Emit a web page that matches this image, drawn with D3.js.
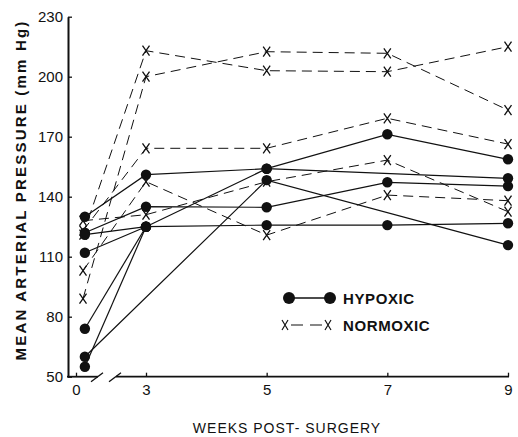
<!DOCTYPE html>
<html>
<head>
<meta charset="utf-8">
<script src="https://cdn.jsdelivr.net/npm/d3@7"></script>
<style>
  body { margin: 0; background: #fff; }
  svg { display: block; font-family: 'Liberation Sans', Arial, sans-serif; }
</style>
</head>
<body>
<svg width="518" height="437"></svg>
<script>
// tick labels
const tickWeeks = [0, 3, 5, 7, 9]
const yTicks = [50, 80, 110, 140, 170, 200, 230]

// first reading was taken a few days after surgery
const hypWeeks = [0.38, 3, 5, 7, 9]
const normWeeks = [0.3, 3, 5, 7, 9]

// one row per animal, null = no reading
const hypoxic = [
  [130, 151, 154, 171.2, 158.7],
  [122, 135, 134.7, 147.2, 145.3],
  [121, 125, 125.8, 125.8, 126.7],
  [112, 125, 154, null, 149.2],
  [74, 125, null, null, null],
  [60, null, 148.3, null, 115.8],
  [55, 125, null, null, null]
]
const normoxic = [
  [121, 213, 203, 202.5, 215],
  [89, 200, 212.5, 211.7, 183.3],
  [123, 164.2, 164.2, 179.2, 166.3],
  [103, 147.5, 120.8, 140.8, 138],
  [128, 131, 147.5, 158.3, 132.5]
]

const svg = d3.select('svg')
const ink = '#111'

// broken x axis: 0..3 squeezed, 3..9 regular
const x = d3.scaleLinear().domain([0, 3, 9]).range([76, 146, 508])
const y = d3.scaleLinear().domain([50, 230]).range([376.7, 16.7])

// y axis
const yAxis = d3.axisLeft(y).tickValues(yTicks).tickSize(-4).tickSizeOuter(0).tickPadding(5)
const gy = svg.append('g').attr('transform', 'translate(68,0)').call(yAxis)
gy.select('.domain').attr('stroke', ink).attr('stroke-width', 2)
gy.selectAll('.tick line').attr('stroke', ink).attr('stroke-width', 1.3)
gy.selectAll('.tick text').attr('fill', ink).attr('font-size', 15).attr('font-family', 'Liberation Sans, Arial, sans-serif')

// x axis (domain drawn by hand because of the break)
const xAxis = d3.axisBottom(x).tickValues(tickWeeks).tickSize(-4).tickSizeOuter(0).tickPadding(8)
const gx = svg.append('g').attr('transform', 'translate(0,376.7)').call(xAxis)
gx.select('.domain').remove()
gx.selectAll('.tick line').attr('stroke', ink).attr('stroke-width', 1.3)
gx.selectAll('.tick text').attr('fill', ink).attr('font-size', 15).attr('font-family', 'Liberation Sans, Arial, sans-serif')

const base = y(50)
const axisSegs = [[67, 98], [116, 509]]
svg.selectAll('line.xseg').data(axisSegs).enter().append('line')
  .attr('class', 'xseg')
  .attr('x1', d => d[0]).attr('x2', d => d[1])
  .attr('y1', base).attr('y2', base)
  .attr('stroke', ink).attr('stroke-width', 1.8)
const slashes = [91, 109]
svg.selectAll('line.slash').data(slashes).enter().append('line')
  .attr('class', 'slash')
  .attr('x1', d => d).attr('y1', base + 5)
  .attr('x2', d => d + 12).attr('y2', base - 4)
  .attr('stroke', ink).attr('stroke-width', 1.3)

// axis titles
svg.append('text')
  .attr('transform', 'translate(26,190) rotate(-90)')
  .attr('text-anchor', 'middle')
  .attr('font-size', 15).attr('font-weight', 'bold')
  .attr('letter-spacing', 2.2)
  .attr('fill', ink)
  .text('MEAN  ARTERIAL  PRESSURE (mm Hg)')

svg.append('text')
  .attr('x', 287).attr('y', 433)
  .attr('text-anchor', 'middle')
  .attr('font-size', 14)
  .attr('letter-spacing', 1)
  .attr('fill', ink)
  .text('WEEKS POST- SURGERY')

// series
const toPoints = (row, weeks) => row.map((v, i) => [weeks[i], v]).filter(d => d[1] != null)
const line = d3.line().x(d => x(d[0])).y(d => y(d[1]))

const normG = svg.append('g')
normoxic.forEach(row => {
  const pts = toPoints(row, normWeeks)
  normG.append('path')
    .attr('d', line(pts))
    .attr('fill', 'none')
    .attr('stroke', ink)
    .attr('stroke-width', 1)
    .attr('stroke-dasharray', '10,6')
  normG.selectAll(null).data(pts).enter().append('path')
    .attr('transform', d => `translate(${x(d[0])},${y(d[1])})`)
    .attr('d', 'M-3.5,-5L3.5,5M3.5,-5L-3.5,5')
    .attr('stroke', ink)
    .attr('stroke-width', 1.3)
})

const hypG = svg.append('g')
hypoxic.forEach(row => {
  const pts = toPoints(row, hypWeeks)
  hypG.append('path')
    .attr('d', line(pts))
    .attr('fill', 'none')
    .attr('stroke', ink)
    .attr('stroke-width', 1.2)
  hypG.selectAll(null).data(pts).enter().append('circle')
    .attr('cx', d => x(d[0]))
    .attr('cy', d => y(d[1]))
    .attr('r', 5.2)
    .attr('fill', ink)
})

// legend
const leg = svg.append('g')
leg.append('line').attr('x1', 289).attr('x2', 330).attr('y1', 298).attr('y2', 298)
  .attr('stroke', ink).attr('stroke-width', 1.5)
leg.selectAll('circle').data([289, 330]).enter().append('circle')
  .attr('cx', d => d).attr('cy', 298).attr('r', 6).attr('fill', ink)
leg.append('line').attr('x1', 291).attr('x2', 323).attr('y1', 325).attr('y2', 325)
  .attr('stroke', ink).attr('stroke-width', 1.2).attr('stroke-dasharray', '12,7')
leg.selectAll('path.lx').data([285, 328]).enter().append('path')
  .attr('class', 'lx')
  .attr('transform', d => `translate(${d},325)`)
  .attr('d', 'M-3,-5L3,5M3,-5L-3,5')
  .attr('stroke', ink).attr('stroke-width', 1.2)
leg.selectAll('text').data(['HYPOXIC', 'NORMOXIC']).enter().append('text')
  .attr('x', 343).attr('y', (d, i) => 304 + i * 27)
  .attr('font-size', 15).attr('font-weight', 'bold')
  .attr('letter-spacing', 0.6)
  .attr('fill', ink)
  .text(d => d)
</script>
</body>
</html>
